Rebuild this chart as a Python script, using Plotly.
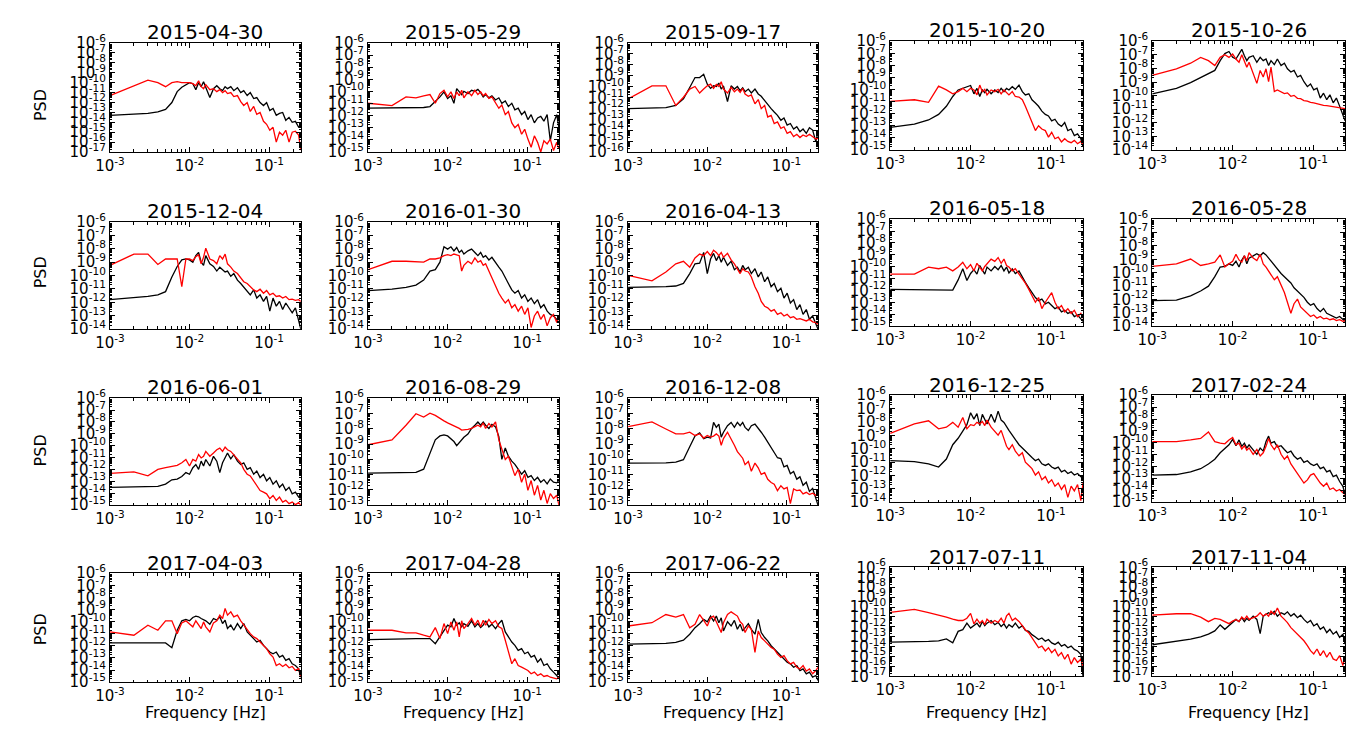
import math
import plotly.graph_objects as go

# ---------------- data ----------------
FREQ_MHZ = [1, 2, 3, 4, 5, 6, 7, 8, 9, 10, 11, 12, 13, 14, 15, 16,
            18, 20, 22, 24, 26, 28, 30,
            33, 36, 40, 44, 48,
            53, 58, 64, 70, 77, 85, 93,
            102, 112, 123, 135, 148, 162, 178, 195, 214, 235, 250]

DATES = ["2015-04-30", "2015-05-29", "2015-09-17", "2015-10-20", "2015-10-26",
         "2015-12-04", "2016-01-30", "2016-04-13", "2016-05-18", "2016-05-28",
         "2016-06-01", "2016-08-29", "2016-12-08", "2016-12-25", "2017-02-24",
         "2017-04-03", "2017-04-28", "2017-06-22", "2017-07-11", "2017-11-04"]

Y_TOP_EXP = -6
Y_BOTTOM_EXP = [-17, -15, -16, -15, -14,
                -14, -14, -14, -15, -14,
                -15, -13, -13, -14, -15,
                -15, -15, -15, -17, -17]
X_TICK_EXP = [-3, -2, -1]
X_MAX_HZ = 0.25

# log10(PSD) values
black_01 = [-13.3, -13.2, -13.1, -12.95, -12.7, -12.0, -10.9, -10.45, -10.2, -10.0, -10.1, -10.7, -10.0, -10.4, -9.9, -10.5,
            -11.5, -10.6, -10.3, -10.6, -10.8, -10.4, -10.6,
            -10.4, -10.8, -10.5, -11.0, -10.8,
            -11.3, -11.0, -11.6, -11.5, -12.0, -12.3, -12.0,
            -12.8, -12.6, -13.3, -13.1, -13.0, -13.8, -13.5, -14.0, -13.9, -14.5, -14.4]
red_01 = [-11.3, -10.3, -9.75, -10.0, -10.4, -10.0, -9.9, -10.0, -10.0, -10.0, -10.1, -10.3, -9.8, -10.4, -10.6, -10.2,
          -10.7, -10.6, -10.9, -10.7, -11.0, -10.8, -11.1,
          -11.0, -11.4, -11.3, -11.9, -12.3,
          -12.0, -12.9, -12.4, -13.2, -13.0, -13.9, -14.2,
          -14.8, -14.5, -16.0, -15.0, -15.3, -14.8, -16.0, -15.0, -14.9, -15.3, -16.8]

black_02 = [-11.38, -11.38, -11.38, -11.35, -11.32, -11.24, -10.84, -10.44, -10.03, -10.57, -10.35, -10.97, -9.76, -10.03, -10.25, -9.98,
            -10.17, -9.90, -9.98, -9.82, -10.09, -10.44, -10.25,
            -10.52, -10.35, -10.70, -10.52, -10.97,
            -10.78, -11.24, -10.97, -11.51, -11.38, -11.91, -11.65,
            -12.32, -11.91, -12.59, -12.18, -12.05, -12.45, -11.91, -14.06, -12.59, -11.91, -12.99]
red_02 = [-10.97, -11.16, -10.44, -10.52, -10.35, -10.25, -10.97, -10.17, -9.90, -10.44, -10.03, -10.57, -10.03, -10.35, -9.90, -10.52,
          -10.03, -10.35, -9.90, -10.25, -10.03, -10.35, -10.17,
          -10.57, -10.44, -10.97, -11.38, -11.11,
          -11.91, -11.65, -12.59, -12.99, -12.72, -13.53, -13.12,
          -13.93, -14.60, -13.66, -14.20, -15.00, -14.06, -14.33, -13.93, -14.87, -14.20, -14.74]

black_03 = [-12.02, -11.96, -11.93, -11.72, -11.12, -10.07, -9.16, -9.16, -8.86, -9.77, -10.16, -9.92, -9.98, -9.67, -10.22, -9.92,
            -11.36, -9.92, -10.22, -9.98, -10.37, -10.10, -10.46,
            -10.22, -10.58, -10.22, -10.67, -10.88,
            -11.27, -11.72, -12.02, -12.33, -12.63, -13.08, -12.87,
            -13.53, -13.38, -13.89, -13.68, -14.13, -13.89, -14.28, -13.77, -13.98, -15.04, -14.13]
red_03 = [-11.12, -9.92, -9.92, -11.72, -10.97, -10.22, -9.98, -10.58, -10.22, -9.92, -9.77, -10.16, -9.80, -9.98, -9.55, -10.22,
          -10.58, -10.07, -10.46, -10.22, -10.52, -10.16, -10.67,
          -10.88, -10.76, -11.57, -11.18, -12.02,
          -11.72, -12.78, -12.63, -13.38, -13.23, -13.83, -13.68,
          -14.28, -14.13, -14.58, -14.37, -14.67, -14.43, -14.58, -14.37, -14.58, -14.80, -14.73]

black_04 = [-13.12, -12.85, -12.51, -12.05, -11.38, -10.57, -10.03, -9.90, -9.76, -9.66, -10.35, -9.90, -10.57, -10.03, -10.25, -9.98,
            -10.35, -10.03, -10.25, -9.90, -10.17, -9.90, -10.03,
            -9.76, -9.98, -9.63, -10.17, -10.44,
            -10.35, -10.84, -11.11, -11.38, -11.78, -12.05, -12.18,
            -12.59, -12.45, -12.85, -13.04, -12.72, -13.39, -13.26, -13.80, -13.66, -14.06, -14.74]
red_04 = [-10.97, -10.84, -11.05, -9.71, -10.03, -10.35, -10.17, -9.90, -10.17, -9.90, -10.03, -10.44, -9.63, -10.17, -9.98, -10.44,
          -10.03, -10.17, -9.98, -10.35, -10.03, -10.25, -10.44,
          -10.17, -10.57, -10.62, -10.84, -11.38,
          -12.05, -12.59, -13.39, -12.99, -13.26, -13.39, -13.93,
          -13.53, -14.06, -13.93, -14.33, -14.06, -14.28, -14.39, -14.20, -14.47, -14.28, -14.55]

black_05 = [-9.87, -9.46, -9.05, -8.67, -8.39, -8.15, -7.43, -6.91, -6.76, -7.19, -7.31, -6.95, -6.60, -7.07, -7.43, -7.19,
            -7.07, -7.55, -7.19, -7.43, -7.31, -7.79, -7.43,
            -7.72, -7.31, -7.79, -7.62, -8.03,
            -8.27, -8.15, -8.63, -8.51, -8.98, -9.34, -9.15,
            -9.58, -9.46, -10.18, -9.82, -10.30, -9.94, -10.53, -10.18, -10.77, -11.37, -11.85]
red_05 = [-8.51, -8.03, -7.62, -7.19, -7.43, -7.79, -7.19, -7.00, -7.19, -6.95, -7.31, -7.55, -7.00, -7.55, -7.91, -7.55,
          -8.39, -9.10, -8.15, -8.63, -8.03, -8.98, -7.91,
          -9.70, -9.58, -9.70, -9.85, -9.80,
          -10.05, -9.98, -10.20, -10.22, -10.36, -10.40, -10.50,
          -10.53, -10.60, -10.63, -10.72, -10.74, -10.78, -10.82, -10.85, -10.88, -10.93, -10.96]

black_06 = [-11.80, -11.68, -11.56, -11.44, -11.20, -10.10, -9.32, -8.83, -8.76, -8.83, -9.00, -8.51, -8.27, -9.00, -9.24, -8.51,
            -9.12, -9.32, -9.66, -9.37, -9.56, -9.73, -9.66,
            -10.05, -9.85, -10.34, -10.59, -10.88,
            -11.20, -11.44, -11.07, -11.68, -11.44, -11.93, -11.56,
            -12.66, -11.68, -12.29, -11.93, -12.54, -12.05, -12.41, -12.78, -12.41, -13.51, -14.00]
red_06 = [-9.24, -8.39, -8.39, -9.17, -8.76, -8.76, -8.76, -10.83, -8.76, -8.76, -8.88, -8.59, -8.44, -9.12, -8.63, -7.95,
          -8.76, -8.88, -9.12, -8.51, -8.76, -8.39, -9.12,
          -9.37, -9.66, -9.85, -10.22, -10.46,
          -10.59, -10.83, -11.07, -11.20, -11.02, -11.32, -11.12,
          -11.44, -11.32, -11.56, -11.51, -11.68, -11.56, -11.80, -11.76, -11.85, -11.80, -11.93]

black_07 = [-11.12, -11.02, -10.88, -10.71, -10.34, -9.66, -9.56, -9.00, -7.85, -8.02, -7.85, -8.15, -7.90, -8.27, -8.10, -8.39,
            -8.15, -8.02, -8.27, -8.51, -8.27, -8.63, -8.51,
            -8.83, -8.63, -9.07, -9.37, -9.66,
            -10.10, -10.59, -11.07, -11.32, -11.12, -11.68, -11.44,
            -11.93, -11.68, -12.10, -11.80, -12.41, -12.17, -12.66, -12.90, -13.02, -13.27, -13.51]
red_07 = [-9.56, -8.93, -8.93, -9.00, -9.00, -8.76, -8.76, -8.68, -8.51, -8.44, -8.51, -8.39, -8.44, -8.51, -9.66, -9.24,
          -8.93, -9.12, -8.68, -9.00, -8.88, -9.24, -9.12,
          -9.66, -10.22, -10.83, -11.32, -11.68,
          -12.05, -11.80, -12.41, -12.17, -12.66, -12.29, -12.90,
          -12.41, -13.88, -13.02, -12.66, -13.27, -12.90, -13.76, -13.15, -12.90, -13.51, -13.02]

black_08 = [-10.88, -10.88, -10.83, -10.78, -10.59, -9.85, -9.12, -9.07, -8.27, -9.85, -8.76, -8.34, -8.88, -8.51, -9.00, -8.63,
            -9.24, -8.93, -9.56, -9.37, -9.73, -9.24, -9.56,
            -9.37, -9.85, -9.49, -10.10, -9.73,
            -10.46, -10.10, -10.83, -10.59, -11.20, -10.95, -11.68,
            -11.32, -12.05, -11.80, -12.54, -12.17, -12.90, -12.54, -13.27, -13.02, -13.63, -14.00]
red_08 = [-9.98, -10.39, -9.73, -9.12, -8.93, -9.37, -8.68, -8.39, -8.51, -8.20, -8.51, -8.10, -8.27, -8.51, -8.27, -8.63,
          -8.34, -8.83, -9.12, -9.56, -9.85, -9.49, -9.66,
          -9.73, -10.10, -10.83, -11.32, -11.93,
          -12.29, -12.41, -12.66, -12.54, -12.90, -12.78, -13.02,
          -12.90, -13.15, -13.07, -13.27, -13.22, -13.32, -13.39, -13.27, -13.46, -13.51, -13.63]

black_09 = [-11.91, -11.91, -11.94, -11.94, -11.91, -11.97, -11.11, -10.17, -11.16, -10.57, -10.25, -10.62, -9.90, -10.25, -10.62, -10.03,
            -10.35, -9.98, -10.25, -9.90, -10.35, -10.03, -10.52,
            -10.17, -10.57, -10.35, -10.89, -11.32,
            -11.78, -12.18, -12.59, -12.85, -12.72, -13.12, -12.99,
            -13.26, -13.53, -13.39, -13.80, -13.66, -13.93, -13.80, -14.20, -14.06, -14.39, -14.60]
red_09 = [-10.62, -10.62, -10.03, -10.17, -10.03, -10.35, -10.03, -9.63, -10.17, -9.82, -10.35, -9.71, -10.03, -10.35, -9.98, -9.76,
          -9.36, -9.55, -9.23, -9.71, -9.36, -9.90, -10.03,
          -10.35, -10.17, -10.62, -10.97, -11.38,
          -11.91, -12.45, -12.99, -12.59, -13.53, -12.99, -12.59,
          -12.18, -12.99, -13.53, -13.26, -13.80, -13.53, -13.93, -13.66, -14.20, -13.93, -14.33]

black_10 = [-12.09, -12.06, -11.73, -11.37, -11.01, -10.30, -9.58, -9.53, -9.34, -9.46, -9.15, -9.58, -9.05, -8.74, -9.34, -8.91,
            -8.74, -8.58, -8.74, -8.51, -8.67, -8.91, -9.10,
            -9.46, -9.77, -10.06, -10.30, -10.53,
            -10.77, -11.13, -11.37, -11.61, -11.85, -12.21, -12.44,
            -12.32, -12.68, -12.92, -12.68, -13.04, -13.16, -13.28, -13.40, -13.28, -13.52, -13.64]
red_10 = [-9.53, -9.34, -8.98, -9.46, -9.34, -9.22, -8.67, -9.58, -9.34, -9.15, -8.63, -9.05, -9.22, -8.74, -9.10, -8.51,
          -8.91, -9.10, -8.63, -9.34, -9.58, -9.87, -10.18,
          -10.53, -10.30, -10.89, -11.49, -12.21,
          -13.04, -12.32, -11.97, -12.56, -12.80, -13.04, -13.28,
          -13.16, -13.40, -13.28, -13.45, -13.40, -13.52, -13.45, -13.59, -13.52, -13.64, -13.59]

black_11 = [-13.50, -13.47, -13.45, -13.42, -13.23, -12.87, -12.81, -12.59, -12.26, -12.40, -11.85, -11.58, -11.99, -11.30, -11.71, -11.16,
            -11.71, -10.89, -11.30, -12.26, -11.44, -11.03, -10.62,
            -11.11, -10.75, -11.30, -11.58, -11.44,
            -11.99, -11.85, -12.40, -12.13, -12.68, -12.40, -12.95,
            -12.68, -13.23, -12.95, -13.50, -13.23, -13.77, -13.50, -14.05, -13.91, -14.32, -14.46]
red_11 = [-12.32, -12.21, -12.54, -11.99, -11.85, -11.77, -11.66, -11.44, -11.16, -11.71, -11.16, -11.30, -10.75, -11.03, -10.89, -10.48,
          -10.89, -10.62, -10.34, -10.20, -10.48, -10.12, -10.34,
          -10.48, -10.75, -11.16, -11.44, -11.99,
          -12.40, -12.54, -12.95, -13.36, -13.77, -13.91, -14.05,
          -14.46, -14.19, -14.60, -14.32, -14.74, -14.60, -14.87, -14.74, -14.96, -14.79, -15.00]

black_12 = [-10.90, -10.90, -10.88, -10.86, -10.65, -9.58, -8.73, -8.47, -8.41, -8.47, -8.69, -8.84, -9.11, -8.90, -8.73, -8.56,
            -8.35, -7.98, -7.77, -7.56, -7.77, -7.56, -7.77,
            -7.98, -7.71, -7.88, -8.52, -10.01,
            -9.26, -9.80, -10.12, -10.33, -10.65, -10.97, -10.75,
            -11.18, -11.07, -11.39, -11.18, -11.50, -11.33, -11.61, -11.29, -11.50, -11.54, -11.39]
red_12 = [-9.05, -8.73, -7.77, -7.02, -7.24, -6.98, -7.13, -7.34, -7.49, -7.62, -7.71, -7.83, -7.92, -7.98, -8.09, -8.09,
          -8.05, -7.98, -7.88, -7.77, -7.88, -7.62, -7.98,
          -7.66, -7.88, -7.56, -8.73, -9.37,
          -10.01, -9.80, -10.43, -11.07, -10.65, -11.50, -10.97,
          -12.03, -11.39, -12.35, -11.71, -12.67, -12.03, -12.89, -12.25, -12.57, -12.35, -12.99]

black_13 = [-10.25, -10.25, -10.23, -10.18, -10.03, -9.18, -8.48, -8.27, -8.65, -8.55, -8.61, -7.59, -7.91, -7.70, -8.55, -8.23,
            -7.80, -7.59, -7.91, -7.59, -7.80, -7.59, -7.91,
            -8.12, -7.80, -7.70, -8.02, -8.23,
            -8.55, -8.87, -9.18, -9.50, -9.90, -9.95, -10.50,
            -10.40, -10.95, -10.80, -11.30, -11.15, -11.70, -11.50, -12.10, -11.90, -12.50, -13.00]
red_13 = [-7.87, -7.55, -8.02, -8.34, -8.34, -8.23, -8.44, -8.34, -8.61, -8.44, -8.55, -8.48, -8.34, -8.48, -9.08, -8.65,
          -8.23, -8.65, -9.08, -9.50, -9.72, -9.93, -10.35,
          -10.14, -10.78, -10.25, -10.56, -10.99,
          -10.88, -11.31, -11.52, -11.63, -12.05, -11.73, -11.94,
          -11.84, -12.90, -11.94, -12.05, -12.01, -12.26, -12.16, -12.31, -12.22, -12.37, -12.09]

black_14 = [-10.89, -10.96, -11.13, -11.37, -10.77, -9.70, -9.22, -8.63, -8.20, -7.31, -7.79, -7.38, -8.27, -7.43, -7.79, -8.15,
            -7.43, -8.03, -7.19, -7.86, -8.03, -8.39, -8.63,
            -8.98, -9.34, -9.70, -9.94, -10.18,
            -10.42, -10.65, -10.89, -10.77, -11.13, -11.25, -11.13,
            -11.37, -11.49, -11.37, -11.73, -11.61, -11.85, -11.73, -11.97, -11.85, -12.09, -12.01]
red_14 = [-8.86, -8.15, -7.91, -8.51, -8.39, -8.03, -8.39, -7.67, -8.51, -8.20, -8.27, -8.03, -8.15, -7.96, -8.27, -7.86,
          -8.39, -8.74, -8.98, -8.63, -9.34, -9.82, -10.06,
          -9.70, -10.18, -10.53, -10.30, -11.01,
          -11.25, -11.49, -11.97, -11.73, -12.32, -12.09, -12.56,
          -12.32, -12.80, -12.56, -13.04, -12.68, -13.64, -12.80, -13.16, -12.68, -13.88, -12.56]

black_15 = [-12.72, -12.67, -12.45, -12.18, -11.78, -11.38, -10.84, -10.44, -10.17, -9.71, -10.25, -9.76, -10.30, -10.03, -10.44, -10.17,
            -10.57, -10.97, -10.44, -10.70, -9.90, -9.44, -10.03,
            -9.90, -10.35, -10.25, -10.57, -10.84,
            -10.70, -11.11, -11.38, -11.24, -11.65, -11.51, -11.78,
            -11.91, -11.78, -12.18, -12.05, -12.45, -12.32, -12.85, -12.72, -13.26, -13.66, -14.33]
red_15 = [-9.90, -9.90, -9.76, -9.63, -9.09, -9.90, -10.03, -10.09, -9.76, -9.55, -10.17, -10.03, -10.52, -10.25, -10.62, -10.44,
          -10.97, -10.57, -11.11, -10.84, -10.30, -9.63, -10.17,
          -10.57, -10.17, -10.97, -11.38, -11.11,
          -11.78, -12.18, -12.59, -12.99, -13.39, -13.12, -12.72,
          -12.59, -12.99, -13.39, -13.66, -13.39, -13.93, -13.80, -14.06, -13.93, -14.20, -14.33]

black_16 = [-11.76, -11.76, -11.73, -11.71, -11.76, -12.15, -10.71, -9.93, -9.82, -9.93, -9.66, -9.55, -9.60, -9.74, -9.82, -9.93,
            -10.21, -9.74, -9.88, -9.60, -10.16, -9.88, -10.57,
            -10.29, -10.71, -10.16, -10.57, -10.16,
            -10.85, -11.12, -11.40, -11.68, -11.54, -11.96, -12.23,
            -12.51, -12.65, -12.51, -12.93, -12.79, -13.20, -13.06, -13.48, -13.62, -13.89, -14.59]
red_16 = [-10.85, -11.12, -10.29, -10.71, -9.93, -9.93, -10.99, -10.10, -9.93, -10.16, -10.43, -9.93, -10.29, -10.57, -10.02, -10.43,
          -10.85, -10.10, -9.93, -9.46, -9.74, -8.91, -9.46,
          -9.19, -9.60, -9.46, -9.93, -10.29,
          -10.71, -10.99, -11.26, -11.40, -11.68, -11.96, -12.23,
          -12.65, -12.93, -13.62, -13.48, -13.70, -13.53, -13.81, -13.70, -14.03, -13.89, -14.59]

black_17 = [-11.48, -11.48, -11.43, -11.40, -11.37, -11.40, -11.82, -11.26, -10.71, -10.29, -10.43, -9.74, -10.29, -10.10, -10.43, -10.16,
            -10.38, -9.93, -10.43, -10.16, -10.49, -10.29, -9.93,
            -10.43, -10.21, -10.57, -10.16, -9.88,
            -10.85, -11.26, -11.68, -11.96, -12.37, -12.23, -12.65,
            -12.51, -12.93, -12.79, -13.34, -13.06, -13.62, -13.48, -13.89, -14.17, -14.45, -14.73]
red_17 = [-10.71, -10.71, -10.93, -10.93, -11.12, -11.26, -10.49, -11.40, -10.16, -10.99, -10.02, -10.71, -10.02, -11.26, -9.93, -10.57,
          -10.16, -9.74, -10.29, -9.88, -10.43, -9.88, -10.29,
          -9.82, -10.16, -9.93, -10.43, -10.57,
          -11.54, -12.51, -13.48, -13.06, -13.62, -13.76, -13.89,
          -14.03, -14.31, -14.17, -14.45, -14.31, -14.53, -14.45, -14.59, -14.64, -14.73, -14.59]

black_18 = [-11.86, -11.86, -11.80, -11.72, -11.53, -11.04, -10.50, -10.17, -9.81, -10.01, -9.54, -9.95, -9.54, -10.09, -9.68, -10.77,
            -10.01, -10.36, -9.90, -10.63, -10.22, -10.77, -10.50,
            -10.17, -10.63, -11.04, -9.81, -10.90,
            -11.31, -11.59, -11.99, -12.27, -12.54, -12.81, -13.08,
            -13.36, -13.49, -13.77, -13.63, -14.04, -13.90, -14.31, -14.17, -14.58, -14.45, -14.86]
red_18 = [-10.36, -10.09, -9.41, -9.62, -9.41, -10.50, -10.22, -9.41, -9.90, -10.36, -9.68, -9.54, -10.01, -10.50, -10.90, -10.09,
          -9.41, -9.19, -9.35, -9.54, -10.01, -10.22, -10.90,
          -10.36, -10.63, -12.54, -10.77, -11.31,
          -11.59, -11.86, -12.13, -12.27, -12.68, -12.95, -12.81,
          -13.22, -13.49, -13.36, -13.77, -13.90, -13.63, -14.09, -13.90, -14.31, -14.04, -13.77]

black_19 = [-13.55, -13.55, -13.48, -13.42, -13.22, -13.62, -12.46, -12.29, -11.63, -12.13, -11.89, -11.63, -12.03, -11.46, -11.89, -11.63,
            -11.36, -11.79, -11.56, -11.96, -11.70, -12.13, -11.79,
            -12.03, -11.63, -12.13, -11.89, -12.36,
            -12.46, -12.79, -13.02, -13.28, -13.12, -13.45, -13.28,
            -13.62, -13.78, -13.55, -13.95, -13.78, -14.11, -13.95, -14.28, -14.44, -14.77, -16.99]
red_19 = [-10.54, -10.24, -10.57, -10.80, -11.03, -11.23, -11.36, -11.36, -11.13, -10.64, -11.70, -11.23, -11.63, -11.36, -11.79, -11.23,
          -11.63, -11.36, -11.56, -11.13, -11.63, -10.90, -10.64,
          -11.36, -11.13, -11.46, -11.96, -12.29,
          -12.62, -13.12, -13.62, -14.11, -13.95, -14.44, -14.11,
          -14.61, -14.28, -14.94, -14.61, -15.27, -14.77, -15.77, -15.11, -15.60, -15.27, -15.93]

black_20 = [-13.81, -13.48, -13.24, -13.01, -12.74, -12.41, -11.81, -12.25, -11.91, -11.58, -11.25, -11.48, -11.08, -11.48, -11.15, -11.35,
            -10.92, -11.25, -12.68, -10.92, -10.75, -10.58, -10.75,
            -10.42, -10.92, -10.58, -10.75, -10.49,
            -10.92, -10.68, -11.08, -10.82, -11.25, -11.58, -11.35,
            -11.91, -11.68, -12.25, -12.01, -12.58, -12.25, -12.74, -12.48, -13.08, -12.74, -13.74]
red_20 = [-10.82, -10.68, -10.68, -11.02, -11.48, -11.15, -11.25, -11.48, -11.68, -11.42, -11.25, -11.48, -11.02, -11.25, -10.92, -11.25,
          -11.08, -10.92, -10.58, -10.92, -10.68, -10.92, -10.42,
          -10.75, -10.09, -10.92, -11.25, -11.58,
          -12.08, -12.41, -12.74, -13.08, -13.41, -13.91, -14.41,
          -14.74, -14.24, -14.91, -14.41, -15.07, -14.57, -15.24, -15.40, -14.91, -15.90, -15.07]

BLACK = [black_01, black_02, black_03, black_04, black_05, black_06, black_07, black_08, black_09, black_10,
         black_11, black_12, black_13, black_14, black_15, black_16, black_17, black_18, black_19, black_20]
RED = [red_01, red_02, red_03, red_04, red_05, red_06, red_07, red_08, red_09, red_10,
       red_11, red_12, red_13, red_14, red_15, red_16, red_17, red_18, red_19, red_20]

# ---------------- layout ----------------
W, H = 1350, 733
FONT = "DejaVu Sans"
COL_X = [(96, 289), (357, 550), (620, 812), (885, 1080), (1150, 1345)]
ROW_Y = [(33, 145), (217, 327), (398, 508), (578, 690)]
SHIFT = [[0, 0, 0, -2, -2], [0, 0, 0, -3, -3], [0, 0, 0, -3, -3], [0, 0, 0, -6, -6]]
PSD_Y = [97, 269, 452, 636]


def sup(e):
    return "10<sup>%d</sup>" % e


def minor_vals(lo_exp, hi_exp, vmax=None):
    vals = []
    for e in range(lo_exp, hi_exp):
        for k in range(2, 10):
            v = k * 10.0 ** e
            if vmax is None or v <= vmax:
                vals.append(v)
    return vals


freq_hz = [f / 1000.0 for f in FREQ_MHZ]

base = dict(
    type="log", showline=True, linecolor="black", linewidth=1.2, mirror="allticks",
    ticks="inside", ticklen=5, tickwidth=1, tickcolor="black",
    showgrid=False, zeroline=False,
    tickfont=dict(family=FONT, size=15, color="black"),
)

fig = go.Figure()
layout = dict(
    width=W, height=H, margin=dict(l=0, r=0, t=0, b=0),
    paper_bgcolor="white", plot_bgcolor="white",
    font=dict(family=FONT, color="black"),
    showlegend=False,
)
annotations = []
x_minor = minor_vals(-3, 0, X_MAX_HZ)

for i in range(20):
    r, c = divmod(i, 5)
    n = i + 1
    sfx = "" if n == 1 else str(n)
    x0, x1 = COL_X[c]
    y0, y1 = ROW_Y[r]
    y0 += SHIFT[r][c]
    y1 += SHIFT[r][c]

    fig.add_trace(go.Scatter(x=freq_hz, y=[10 ** v for v in BLACK[i]], mode="lines",
                             line=dict(color="black", width=1.3),
                             xaxis="x" + sfx, yaxis="y" + sfx, hoverinfo="skip"))
    fig.add_trace(go.Scatter(x=freq_hz, y=[10 ** v for v in RED[i]], mode="lines",
                             line=dict(color="#ff0000", width=1.3),
                             xaxis="x" + sfx, yaxis="y" + sfx, hoverinfo="skip"))

    yt = list(range(Y_TOP_EXP, Y_BOTTOM_EXP[i] - 1, -1))
    layout["xaxis" + sfx] = dict(
        base, range=[-3, math.log10(X_MAX_HZ)], domain=[x0 / W, x1 / W], anchor="y" + sfx,
        tickmode="array", tickvals=[10.0 ** e for e in X_TICK_EXP],
        ticktext=[sup(e) for e in X_TICK_EXP],
        minor=dict(tickmode="array", tickvals=x_minor, ticks="inside", ticklen=2.5,
                   tickwidth=0.8, tickcolor="black", showgrid=False))
    layout["yaxis" + sfx] = dict(
        base, range=[Y_BOTTOM_EXP[i], Y_TOP_EXP], domain=[1 - y1 / H, 1 - y0 / H], anchor="x" + sfx,
        tickmode="array", tickvals=[10.0 ** e for e in yt], ticktext=[sup(e) for e in yt],
        minor=dict(tickmode="array", tickvals=minor_vals(Y_BOTTOM_EXP[i], Y_TOP_EXP), ticks="inside",
                   ticklen=2, tickwidth=0.6, tickcolor="black", showgrid=False))

    annotations.append(dict(text=DATES[i], x=(x0 + x1) / 2 / W, y=1 - (y0 - 11) / H,
                            xref="paper", yref="paper", xanchor="center", yanchor="middle",
                            showarrow=False, font=dict(family=FONT, size=20, color="black")))
    if c == 0:
        annotations.append(dict(text="PSD", x=26 / W, y=1 - PSD_Y[r] / H, xref="paper", yref="paper",
                                xanchor="center", yanchor="middle", textangle=-90, showarrow=False,
                                font=dict(family=FONT, size=16, color="black")))
    if r == 3:
        annotations.append(dict(text="Frequency [Hz]", x=(x0 + x1) / 2 / W, y=1 - 721 / H,
                                xref="paper", yref="paper", xanchor="center", yanchor="middle",
                                showarrow=False, font=dict(family=FONT, size=16, color="black")))

layout["annotations"] = annotations
fig.update_layout(**layout)
fig.write_html("out.html", config={"displayModeBar": False},
               post_script="document.body.style.margin='0px';")
